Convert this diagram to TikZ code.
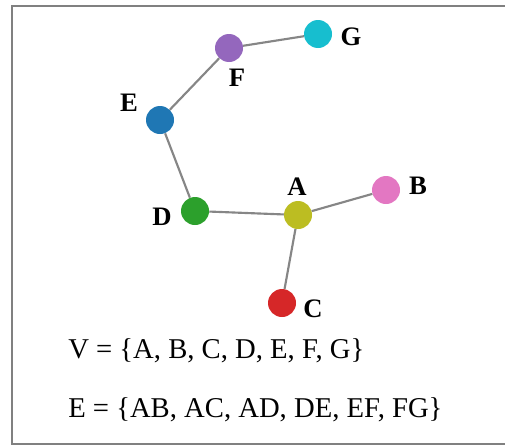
\documentclass[tikz,border=0pt]{standalone}
\usepackage{fontspec}
\setmainfont{Liberation Serif}
\begin{document}
\begin{tikzpicture}[x=0.75pt,y=-0.75pt,
  vertex/.style={circle,minimum size=21pt,inner sep=0pt,draw=none},
  vlabel/.style={font=\fontsize{20}{23}\selectfont\bfseries,inner sep=0pt},
  edge/.style={draw=gray!95,line width=1.6pt},
  settext/.style={font=\fontsize{21.5}{25}\selectfont,anchor=west,inner sep=0pt},
  frame/.style={draw=gray,line width=2pt}]
\useasboundingbox (0,0) rectangle (505,446);
% open frame: top, left and bottom sides
\coordinate (ftr) at (505,6);
\coordinate (ftl) at (12,6);
\coordinate (fbl) at (12,444);
\coordinate (fbr) at (505,444);
\draw[frame] (ftr) -- (ftl) -- (fbl) -- (fbr);
% vertex positions
\coordinate (pA) at (298,215);
\coordinate (pB) at (386,190);
\coordinate (pC) at (282,303);
\coordinate (pD) at (195,211);
\coordinate (pE) at (160,120);
\coordinate (pF) at (229,48);
\coordinate (pG) at (318,34);
% vertices
\node[vertex,fill={rgb,255:red,23;green,190;blue,207}] (G) at (pG) {};
\node[vertex,fill={rgb,255:red,148;green,103;blue,189}] (F) at (pF) {};
\node[vertex,fill={rgb,255:red,31;green,119;blue,180}] (E) at (pE) {};
\node[vertex,fill={rgb,255:red,44;green,160;blue,44}] (D) at (pD) {};
\node[vertex,fill={rgb,255:red,188;green,189;blue,34}] (A) at (pA) {};
\node[vertex,fill={rgb,255:red,227;green,119;blue,194}] (B) at (pB) {};
\node[vertex,fill={rgb,255:red,214;green,39;blue,40}] (C) at (pC) {};
% edges, running between the vertex borders
\draw[edge] (A) -- (B);
\draw[edge] (A) -- (C);
\draw[edge] (A) -- (D);
\draw[edge] (D) -- (E);
\draw[edge] (E) -- (F);
\draw[edge] (F) -- (G);
% vertex labels
\node[vlabel] (lG) at (351,37) {G};
\node[vlabel] (lF) at (237,78) {F};
\node[vlabel] (lE) at (129,103) {E};
\node[vlabel] (lD) at (162,217) {D};
\node[vlabel] (lA) at (297,187) {A};
\node[vlabel] (lB) at (418,186) {B};
\node[vlabel] (lC) at (313,309) {C};
% vertex and edge sets
\node[settext] (Vset) at (68,351) {V = \{A, B, C, D, E, F, G\}};
\node[settext] (Eset) at (68,410) {E = \{AB, AC, AD, DE, EF, FG\}};
\end{tikzpicture}
\end{document}
